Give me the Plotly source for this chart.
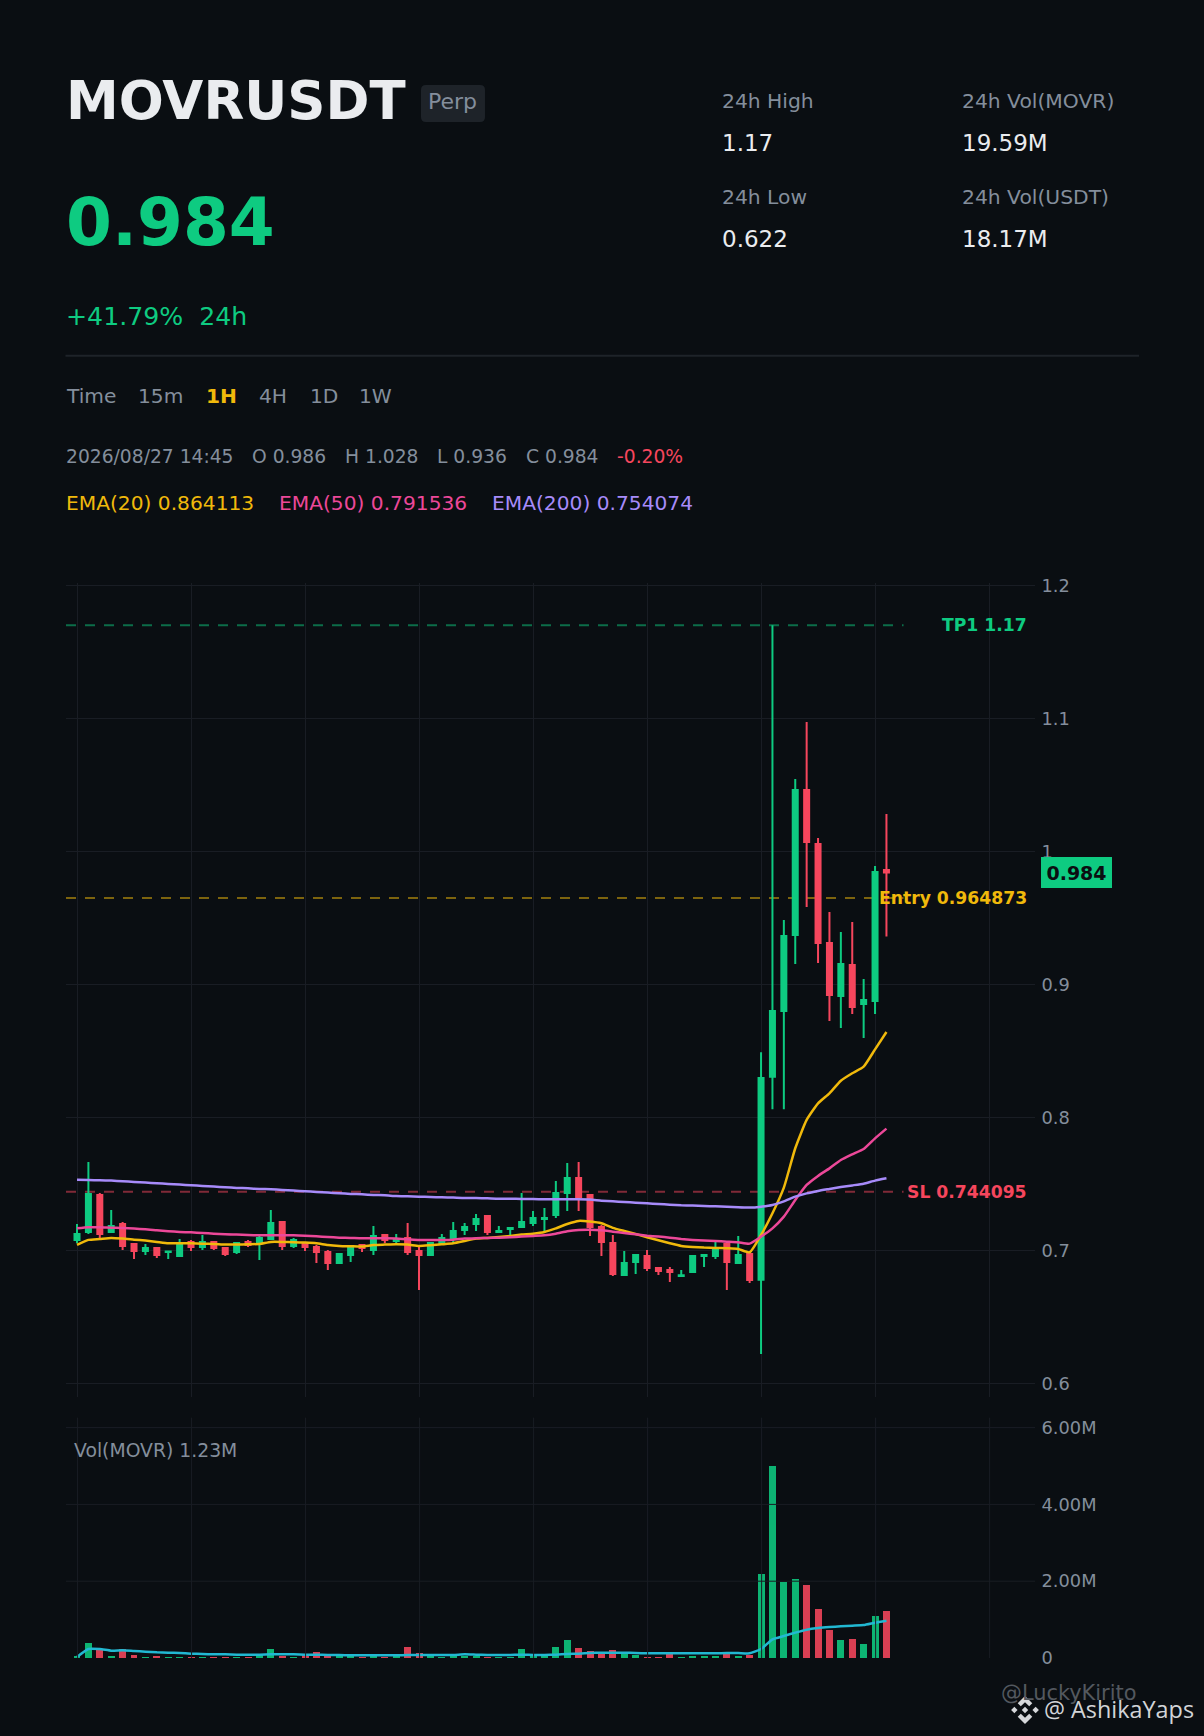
import plotly.graph_objects as go

W, H = 1204, 1736
BG = "#0a0e12"
GRID = "#191d24"
GRAY = "#848e9c"
LIGHT = "#eaecef"
GREEN = "#0ecb81"
RED = "#f6465d"
AMBER = "#f0b90b"
PINK = "#ec4899"
PURPLE = "#a78bfa"
CYAN = "#22b8d2"

opens = [.7078,.7138,.7416,.7138,.7198,.7048,.6995,.7018,.6987,.6957,.7063,.7025,.7063,.7018,.6987,.7063,.7053,.7085,.7213,.7033,
         .7055,.7025,.6987,.6905,.6965,.7040,.7003,.7115,.7070,.7093,.6995,.6965,.7055,.7085,.7153,.7198,.7258,.7138,.7160,.7175,
         .7205,.7236,.7266,.7431,.7544,.7416,.7175,.7055,.6815,.6912,.6957,.6867,.6852,.6807,.6837,.6957,.6957,.7048,.6905,.6972,
         .6779,.8304,.8799,.9371,1.0461,1.0056,.9311,.8912,.9145,.8852,.8874,.986]
highs = [.7198,.7664,.7431,.7303,.7213,.7053,.7048,.7018,.6990,.7085,.7078,.7115,.7063,.7025,.7063,.7078,.7108,.7303,.7213,.7093,
         .7055,.7040,.7003,.6972,.7033,.7040,.7183,.7115,.7123,.7205,.7025,.7063,.7123,.7213,.7205,.7273,.7258,.7183,.7168,.7431,
         .7296,.7318,.7521,.7657,.7664,.7416,.7190,.7115,.6995,.6965,.7003,.6875,.6875,.6852,.6965,.6965,.7063,.7055,.7108,.6972,
         .849,1.170,.9483,1.0544,1.0972,1.01,.9544,.9393,.9469,.904,.9890,1.028]
lows = [.7053,.7123,.7085,.7138,.7003,.6935,.6965,.6942,.6935,.6957,.6995,.7003,.7003,.6957,.6972,.7025,.6927,.7085,.7003,.7018,
        .6995,.6905,.6852,.6897,.6912,.6987,.6965,.7055,.7048,.6965,.6702,.6965,.7048,.7053,.7115,.7145,.7115,.7138,.7108,.7175,
        .7183,.7138,.7243,.7296,.7296,.7108,.6957,.6807,.6815,.6822,.6845,.6815,.6762,.6807,.6837,.6875,.6935,.6702,.6897,.6754,
        .622,.806,.806,.9153,.9581,.916,.8724,.8671,.8777,.8597,.8777,.936]
closes = [.7123,.7424,.7123,.7183,.7033,.6995,.7018,.6965,.6990,.7055,.7025,.7063,.7018,.6972,.7055,.7040,.7093,.7205,.7033,.7078,
          .7025,.6987,.6905,.6972,.7033,.7018,.7108,.7078,.7085,.6987,.6965,.7055,.7093,.7145,.7175,.7236,.7138,.7145,.7168,.7213,
          .7243,.7243,.7431,.7544,.7401,.7175,.7063,.6822,.6905,.6965,.6867,.6845,.6837,.6812,.6957,.6965,.7010,.6912,.6965,.6777,
          .8296,.8799,.9363,1.0461,1.007,.9311,.892,.9153,.8829,.8882,.9845,.984]
ema20 = [.7040,.7078,.7085,.7093,.7088,.7080,.7073,.7063,.7053,.7053,.7053,.7050,.7048,.7043,.7043,.7045,.7048,.7063,.7063,.7060,
         .7058,.7053,.7040,.7033,.7030,.7028,.7040,.7043,.7045,.7043,.7033,.7038,.7045,.7053,.7070,.7088,.7093,.7100,.7108,.7118,
         .7125,.7138,.7165,.7198,.7221,.7216,.7203,.7168,.7145,.7123,.7098,.7075,.7053,.7033,.7025,.7020,.7018,.7015,.7010,.6985,
         .7115,.7278,.7471,.7767,.7980,.8105,.8180,.8275,.8331,.8381,.8511,.8641]
ema50 = [.7165,.7173,.7173,.7170,.7168,.7163,.7158,.7150,.7143,.7138,.7135,.7130,.7125,.7120,.7118,.7115,.7113,.7113,.7113,.7113,
         .7110,.7105,.7100,.7095,.7093,.7090,.7090,.7090,.7088,.7083,.7078,.7078,.7078,.7080,.7088,.7090,.7093,.7095,.7098,.7103,
         .7108,.7113,.7125,.7143,.7153,.7155,.7150,.7140,.7130,.7120,.7110,.7103,.7095,.7085,.7078,.7073,.7070,.7065,.7060,.7050,
         .7103,.7165,.7253,.7378,.7491,.7559,.7616,.7679,.7722,.7762,.7842,.7915]
ema200 = [.7531,.7529,.7526,.7524,.7519,.7514,.7509,.7504,.7499,.7494,.7489,.7484,.7479,.7474,.7469,.7466,.7461,.7459,.7454,.7449,
          .7444,.7439,.7434,.7429,.7424,.7421,.7416,.7414,.7408,.7406,.7403,.7401,.7398,.7396,.7393,.7393,.7391,.7388,.7388,.7386,
          .7386,.7383,.7383,.7383,.7383,.7381,.7373,.7368,.7363,.7358,.7353,.7348,.7343,.7338,.7336,.7333,.7331,.7328,.7323,.7321,
          .7328,.7341,.7368,.7403,.7428,.7446,.7461,.7476,.7488,.7501,.7524,.7541]
volumes_m = [.052,.39,.208,.052,.234,.078,.026,.052,.026,.026,.026,.026,.026,.026,.026,.026,.078,.234,.052,.026,
             .078,.156,.052,.052,.052,.026,.052,.026,.052,.286,.13,.052,.026,.078,.052,.052,.026,.026,.026,.234,
             .052,.052,.286,.469,.26,.182,.13,.208,.13,.078,.026,.026,.13,.026,.052,.052,.052,.13,.052,.078,
             2.187,5.0,2.0,2.057,1.90,1.276,.729,.469,.495,.365,1.094,1.224]
vol_ma_m = [.026,.234,.234,.191,.2,.182,.165,.148,.139,.13,.113,.104,.095,.095,.087,.087,.087,.095,.095,.095,
            .087,.087,.078,.078,.069,.069,.069,.069,.069,.078,.078,.078,.078,.078,.095,.087,.078,.078,.078,.087,
            .078,.078,.087,.104,.113,.13,.139,.139,.139,.13,.122,.122,.122,.122,.122,.122,.122,.13,.13,.122,
            .234,.486,.573,.66,.738,.781,.807,.825,.842,.859,.92,.972]
candle_index = list(range(len(opens)))

price_ticks = [0.6, 0.7, 0.8, 0.9, 1.0, 1.1, 1.2]
price_tick_text = ["0.6", "0.7", "0.8", "0.9", "1", "1.1", "1.2"]
vol_ticks = [0, 2, 4, 6]
vol_tick_text = ["0", "2.00M", "4.00M", "6.00M"]
x_grid = [0.05, 10.05, 20.05, 30.05, 40.05, 50.05, 60.05, 70.05, 80.05]

level_names = ["TP1 1.17", "Entry 0.964873", "SL 0.744095"]
level_values = [1.17, 0.964873, 0.744095]
level_colors = [GREEN, AMBER, RED]
last_price = 0.984

XRANGE = [-0.966, 84.03]


def px(x):
    return x / W


def py(y):
    return 1 - y / H


fig = go.Figure()
fig.add_trace(go.Candlestick(
    x=candle_index, open=opens, high=highs, low=lows, close=closes,
    increasing=dict(line=dict(color=GREEN, width=2), fillcolor=GREEN),
    decreasing=dict(line=dict(color=RED, width=2), fillcolor=RED),
    whiskerwidth=0, xaxis="x", yaxis="y", showlegend=False))
for series, color in ((ema20, AMBER), (ema50, PINK), (ema200, PURPLE)):
    fig.add_trace(go.Scatter(x=candle_index, y=series, mode="lines", xaxis="x", yaxis="y",
                             line=dict(color=color, width=2.5, shape="spline", smoothing=0.5),
                             showlegend=False))
bar_colors = [GREEN if c >= o else RED for o, c in zip(opens, closes)]
fig.add_trace(go.Bar(x=candle_index, y=volumes_m, marker=dict(color=bar_colors, line=dict(width=0)),
                     opacity=0.88, width=0.61, xaxis="x2", yaxis="y2", showlegend=False))
fig.add_trace(go.Scatter(x=candle_index, y=vol_ma_m, mode="lines", xaxis="x2", yaxis="y2",
                         line=dict(color=CYAN, width=2.5, shape="spline", smoothing=0.5),
                         showlegend=False))

shapes = []
annotations = []


def text(x, y, s, size, color, bold=False, family="DejaVu Sans", anchor="left"):
    annotations.append(dict(
        x=px(x), y=py(y), xref="paper", yref="paper", text=s, showarrow=False,
        xanchor=anchor, yanchor="middle", borderpad=0, borderwidth=0,
        font=dict(family=family, size=size, color=color, weight=700 if bold else 400)))


def poly(points, fill, layer="above"):
    path = "M " + " L ".join(f"{px(a):.5f} {py(b):.5f}" for a, b in points) + " Z"
    shapes.append(dict(type="path", xref="paper", yref="paper", path=path,
                       fillcolor=fill, line=dict(width=0), layer=layer))


# header
b = (421, 85, 485, 122)
r = 5
bp = (f"M {px(b[0]+r):.5f} {py(b[1]):.5f} L {px(b[2]-r):.5f} {py(b[1]):.5f} "
      f"Q {px(b[2]):.5f} {py(b[1]):.5f} {px(b[2]):.5f} {py(b[1]+r):.5f} "
      f"L {px(b[2]):.5f} {py(b[3]-r):.5f} Q {px(b[2]):.5f} {py(b[3]):.5f} {px(b[2]-r):.5f} {py(b[3]):.5f} "
      f"L {px(b[0]+r):.5f} {py(b[3]):.5f} Q {px(b[0]):.5f} {py(b[3]):.5f} {px(b[0]):.5f} {py(b[3]-r):.5f} "
      f"L {px(b[0]):.5f} {py(b[1]+r):.5f} Q {px(b[0]):.5f} {py(b[1]):.5f} {px(b[0]+r):.5f} {py(b[1]):.5f} Z")
shapes.append(dict(type="path", xref="paper", yref="paper", path=bp, fillcolor="#1e2329",
                   line=dict(width=0), layer="below"))
shapes.append(dict(type="line", xref="paper", yref="paper", x0=px(65.5), x1=px(1139),
                   y0=py(355.7), y1=py(355.7), line=dict(color="#1e2329", width=2), layer="below"))

text(66, 100.5, "MOVRUSDT", 53, LIGHT, True)
text(427.5, 102, "Perp", 22, GRAY)
text(66, 222.5, "0.984", 66, GREEN, True)
text(66, 316.5, "+41.79%\u00a0\u00a024h", 25.2, GREEN)
for x, top_label, top_val, bot_label, bot_val in (
        (721.5, "24h High", "1.17", "24h Low", "0.622"),
        (962, "24h Vol(MOVR)", "19.59M", "24h Vol(USDT)", "18.17M")):
    text(x, 100.5, top_label, 20.3, GRAY)
    text(x, 143.5, top_val, 23, LIGHT)
    text(x, 196.5, bot_label, 20.3, GRAY)
    text(x, 239.5, bot_val, 23, LIGHT)

for x, s, c, bold in ((65.5, "Time", GRAY, False), (138, "15m", GRAY, False), (205.5, "1H", AMBER, True),
                      (259, "4H", GRAY, False), (309.5, "1D", GRAY, False), (359, "1W", GRAY, False)):
    text(x, 396.5, s, 20.2, c, bold)
for x, s, c in ((66, "2026/08/27 14:45", GRAY), (252, "O 0.986", GRAY), (345, "H 1.028", GRAY),
                (437, "L 0.936", GRAY), (526, "C 0.984", GRAY), (617, "-0.20%", RED)):
    text(x, 456.5, s, 18.7, c)
for x, s, c in ((66, "EMA(20) 0.864113", AMBER), (279, "EMA(50) 0.791536", PINK), (492.3, "EMA(200) 0.754074", PURPLE)):
    text(x, 503.5, s, 20.2, c)
text(74, 1450.5, "Vol(MOVR) 1.23M", 18.8, GRAY)

# price levels
for value, name, color in zip(level_values, level_names, level_colors):
    shapes.append(dict(type="line", xref="x", yref="y", x0=XRANGE[0], x1=72.5, y0=value, y1=value,
                       opacity=0.5, layer="below", line=dict(color=color, width=2, dash="10px,9px")))
    annotations.append(dict(x=px(1026.5), y=value, xref="paper", yref="y", text=name, showarrow=False,
                            xanchor="right", yanchor="middle", borderpad=0, borderwidth=0,
                            font=dict(family="DejaVu Sans", size=17.2, color=color, weight=700)))
annotations.append(dict(x=px(1076.5), y=py(872.5), xref="paper", yref="paper", text=f"{last_price}",
                        showarrow=False, xanchor="center", yanchor="middle", width=71, height=31,
                        bgcolor=GREEN, borderpad=0, borderwidth=0,
                        font=dict(family="DejaVu Sans", size=19, color="#0b0e11", weight=700)))

# volume pane grid sits over the bars
for t in x_grid:
    shapes.append(dict(type="line", xref="x2", yref="y2 domain", x0=t, x1=t, y0=0, y1=1,
                       line=dict(color=GRID, width=1), layer="above"))
for t in vol_ticks[1:]:
    shapes.append(dict(type="line", xref="x2 domain", yref="y2", x0=0, x1=1, y0=t, y1=t,
                       line=dict(color=GRID, width=1), layer="above"))

# watermark and logo
text(1001, 1693, "@LuckyKirito", 20.9, "#53585f")
cx, cy, R = 1025, 1710, 14
LOGO = "#d6d8db"
for dx in (-0.76, 0, 0.76):
    poly([(cx + (dx + a) * R, cy + c * R) for a, c in ((0, -0.23), (0.23, 0), (0, 0.23), (-0.23, 0))], LOGO)
for sgn in (-1, 1):
    poly([(cx + a * R, cy + sgn * c * R) for a, c in
          ((-0.52, 0.48), (0, 1), (0.52, 0.48), (0.30, 0.26), (0, 0.56), (-0.30, 0.26))], LOGO)
text(1043.5, 1709, "@ AshikaYaps", 23.4, "#d2d4d7", family="Open Sans")

axis_common = dict(showline=False, zeroline=False, showticklabels=False, ticks="",
                   range=XRANGE, tickmode="array", tickvals=x_grid, rangeslider=dict(visible=False),
                   domain=[px(66), px(1035)], fixedrange=True)
y_common = dict(side="right", showline=False, zeroline=False, ticks="outside", ticklen=2, tickcolor=BG,
                tickfont=dict(family="DejaVu Sans", size=17.8, color=GRAY), tickmode="array", fixedrange=True)

fig.update_layout(
    width=W, height=H, margin=dict(l=0, r=0, t=0, b=0, pad=0, autoexpand=False), paper_bgcolor=BG, plot_bgcolor=BG,
    showlegend=False, boxgap=0.56, boxgroupgap=0, bargap=0, hovermode=False,
    xaxis=dict(showgrid=True, gridcolor=GRID, gridwidth=1, anchor="y", **axis_common),
    xaxis2=dict(showgrid=False, anchor="y2", **axis_common),
    yaxis=dict(domain=[py(1396.7), py(582.7)], range=[0.5899, 1.2020], tickvals=price_ticks,
               ticktext=price_tick_text, showgrid=True, gridcolor=GRID, gridwidth=1, anchor="x", **y_common),
    yaxis2=dict(domain=[py(1658), py(1417.7)], range=[0, 6.258], tickvals=vol_ticks, ticktext=vol_tick_text,
                showgrid=False, anchor="x2", **y_common),
    shapes=shapes, annotations=annotations)

fig.write_html("out.html", config=dict(displayModeBar=False),
               post_script="document.body.style.margin='0';document.body.style.background='#0a0e12';")
